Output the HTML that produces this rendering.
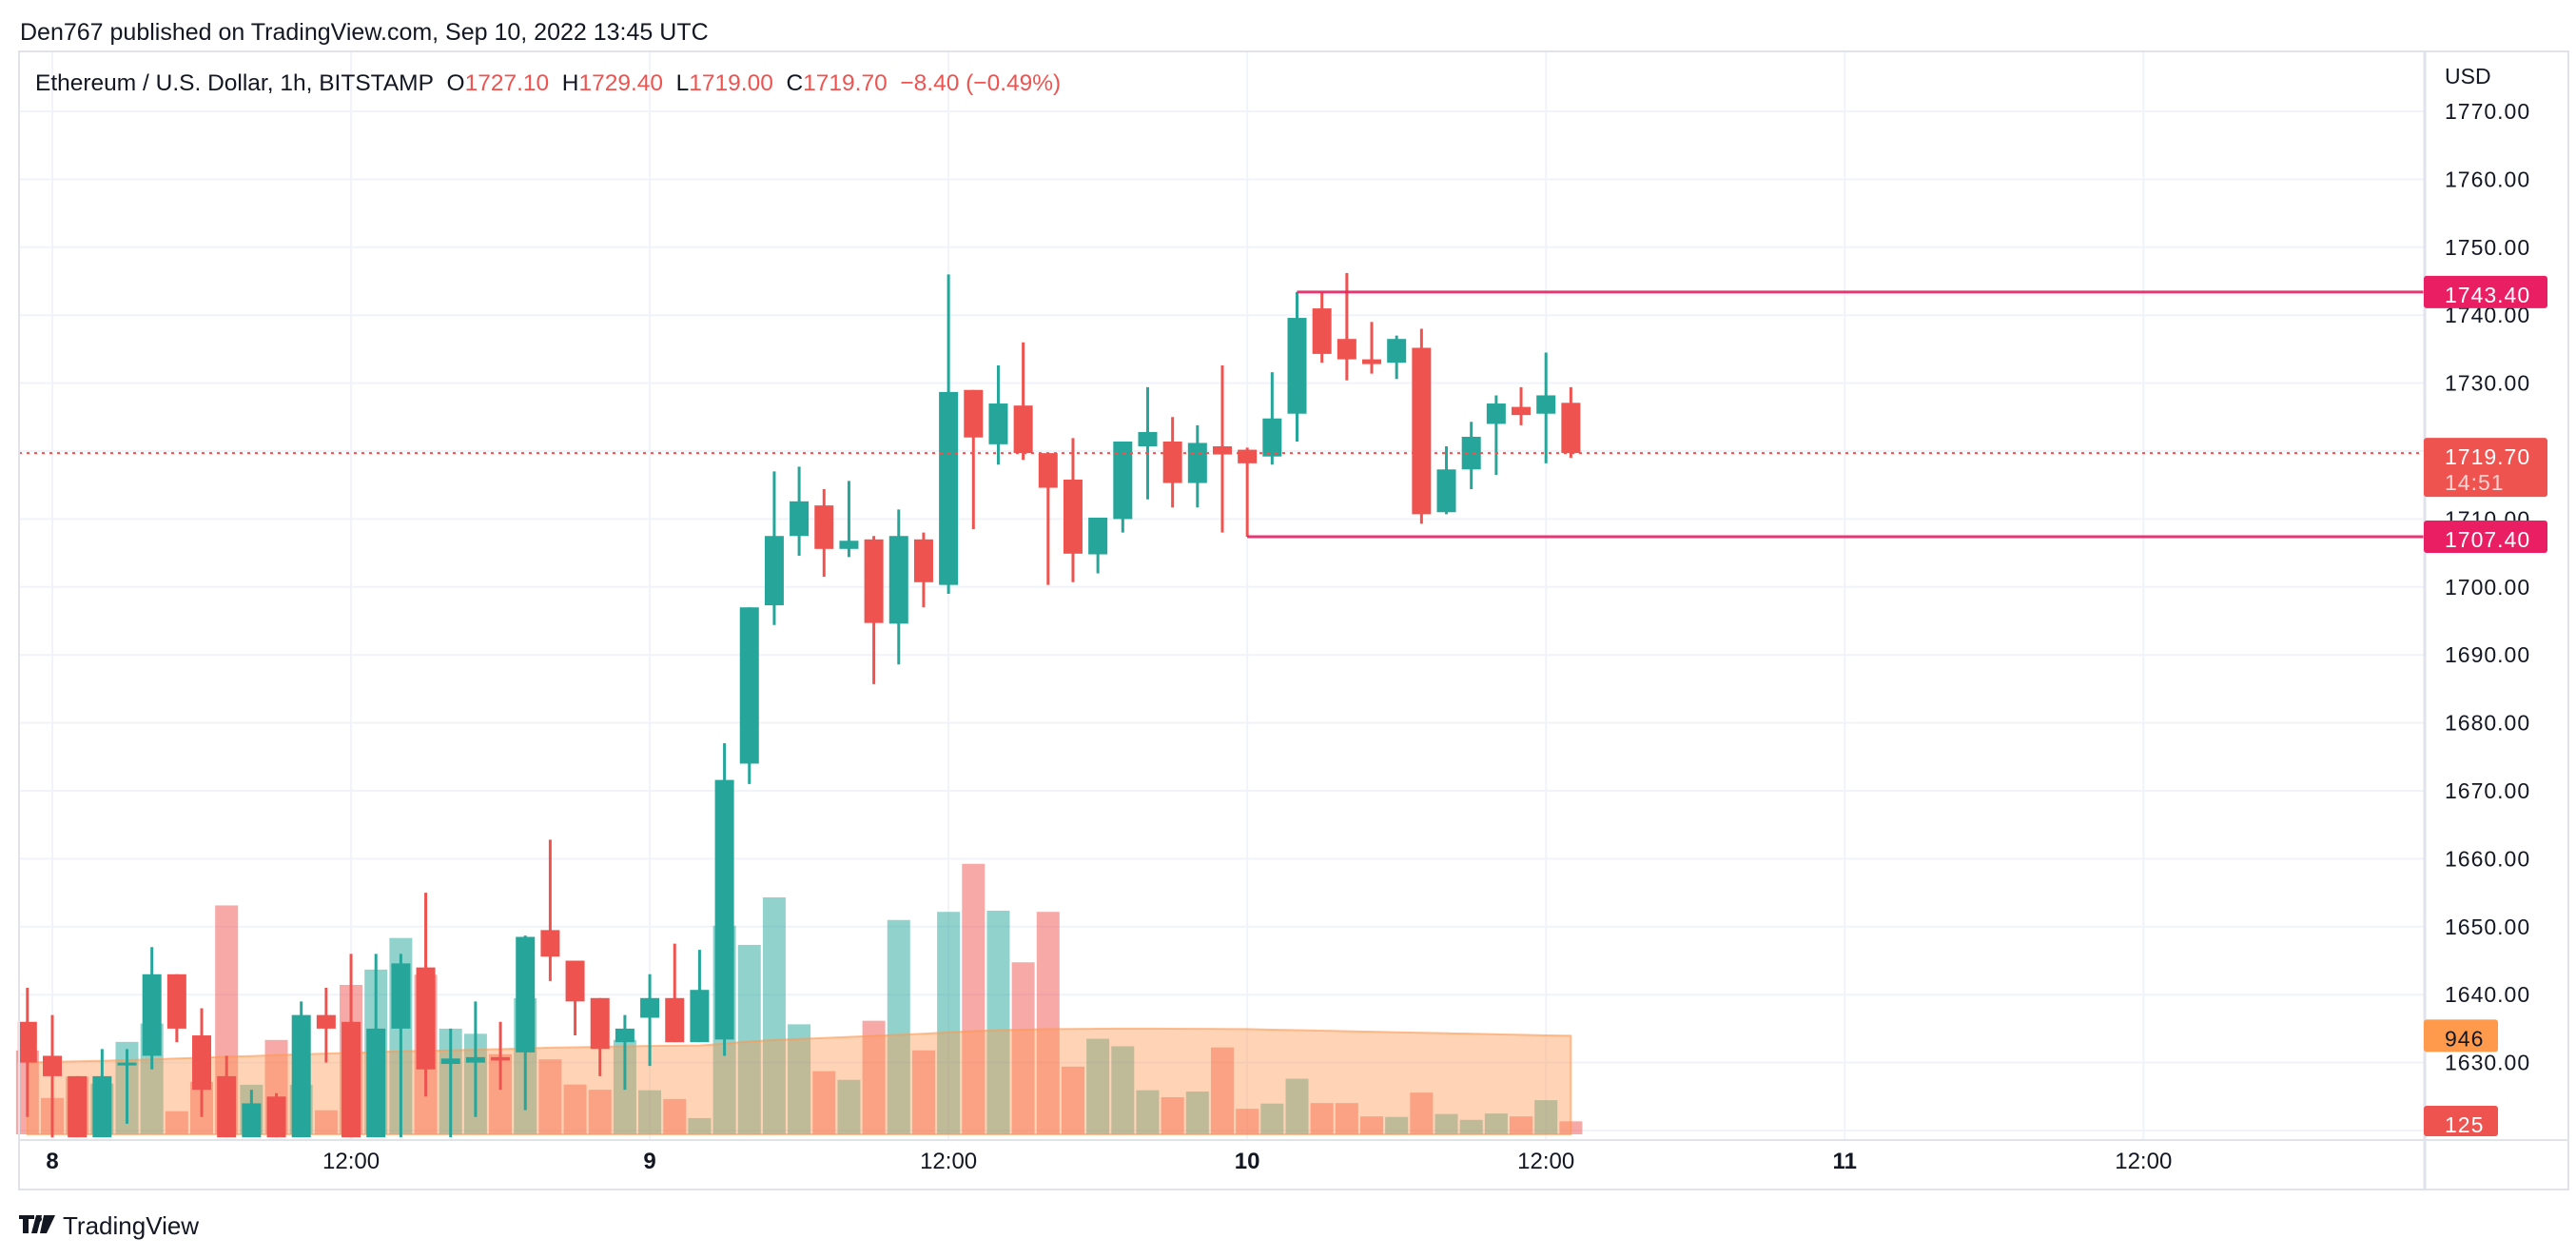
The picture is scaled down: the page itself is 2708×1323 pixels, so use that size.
<!DOCTYPE html>
<html><head><meta charset="utf-8">
<style>
html,body{margin:0;padding:0;background:#fff;}
body{width:2708px;height:1318px;overflow:hidden;font-family:"Liberation Sans",sans-serif;}
svg text{font-family:"Liberation Sans",sans-serif;}
</style></head>
<body>
<svg id="chart" width="2708" height="1318" viewBox="0 0 2708 1318" xmlns="http://www.w3.org/2000/svg">
<rect x="0" y="0" width="2708" height="1318" fill="#fff"/>
<text x="21" y="42" font-size="25" fill="#131722">Den767 published on TradingView.com, Sep 10, 2022 13:45 UTC</text>
<g id="grid"></g>
<g id="vol"></g>
<g id="candles"></g>
<g id="over"></g>
<rect x="20" y="54" width="2680" height="1196" fill="none" stroke="#e0e3eb" stroke-width="2"/>
<line x1="2549" y1="54" x2="2549" y2="1250" stroke="#e0e3eb" stroke-width="3"/>
<line x1="20" y1="1198" x2="2700" y2="1198" stroke="#e0e3eb" stroke-width="2"/>
<text x="37" y="95" font-size="24.5" fill="#131722">Ethereum / U.S. Dollar, 1h, BITSTAMP&#160; O<tspan fill="#ef5350">1727.10</tspan>&#160; H<tspan fill="#ef5350">1729.40</tspan>&#160; L<tspan fill="#ef5350">1719.00</tspan>&#160; C<tspan fill="#ef5350">1719.70</tspan>&#160; <tspan fill="#ef5350">−8.40 (−0.49%)</tspan></text>
<text x="2570" y="88" font-size="23" fill="#131722">USD</text>
<g id="axis"></g>
<g id="badges"></g>
<g>
<path d="M20 1277h16v4h-6v15h-6v-15h-4z M38 1277h6l-5 19h-6z" fill="#131722"/>
<circle cx="41" cy="1281" r="3" fill="#131722"/>
<path d="M46 1277h12l-9 19h-7z" fill="#131722"/>
<text x="66" y="1297" font-size="26" fill="#131722">TradingView</text>
</g>
</svg>
<script>
const opens =[1636,1631,1628,1619,1629.6,1631,1643,1634,1628,1619,1625,1619,1637,1636,1619,1635,1644,1629.8,1630,1630.8,1631.5,1649.5,1645,1639.5,1633,1636.6,1639.5,1633,1633.4,1674,1697.3,1707.5,1712,1705.6,1707,1694.6,1707,1700.3,1729,1721,1726.7,1719.7,1715.8,1704.8,1710,1720.7,1721.4,1715.3,1720.7,1720.2,1719.2,1725.5,1741,1736.5,1733.5,1733,1735.2,1711,1717.3,1724,1726.5,1725.5,1727.1];
const highs =[1641,1637,1628,1632,1632,1647,1643,1638,1631,1626,1625.5,1639,1641,1646,1646,1646,1655,1635,1639,1636,1648.7,1662.8,1645,1639.5,1637,1643,1647.5,1646.6,1677,1697,1717,1717.7,1714.4,1715.6,1707.5,1711.4,1708,1746,1729,1732.6,1736,1719.7,1721.9,1710.2,1721.4,1729.4,1725,1723.8,1732.6,1720.5,1731.6,1743.4,1743.3,1746.2,1739,1737,1738,1720.7,1724.3,1728.2,1729.4,1734.5,1729.4];
const lows  =[1622,1619,1619,1619,1621,1629,1633,1622,1619,1619,1619,1619,1630,1619,1619,1619,1625,1619,1622,1626,1623,1642,1634,1628,1626,1629.5,1633,1633,1631,1671,1694.4,1704.6,1701.5,1704.4,1685.7,1688.6,1697,1699,1708.5,1718,1718.7,1700.3,1700.7,1702,1708,1712.9,1711.7,1711.7,1708,1707.4,1718,1721.4,1733,1730.4,1731.4,1730.6,1709.3,1710.7,1714.4,1716.5,1723.8,1718.2,1719];
const closes=[1630,1628,1619,1628,1630,1643,1635,1626,1619,1624,1619,1637,1635,1619,1635,1644.6,1629,1630.6,1630.8,1630.3,1648.5,1645.6,1639,1632,1635,1639.5,1633,1640.7,1671.6,1697,1707.5,1712.6,1705.6,1706.8,1694.7,1707.5,1700.7,1728.7,1722,1727,1719.7,1714.6,1704.9,1710.2,1721.4,1722.8,1715.3,1721.2,1719.5,1718.2,1724.8,1739.6,1734.3,1733.5,1732.8,1736.5,1710.7,1717.3,1722.1,1727,1725.3,1728.2,1719.7];
const volumes=[805,349,554,486,887,1063,222,505,2197,476,906,476,231,1434,1581,1884,1532,1014,965,769,1307,720,478,428,907,423,339,156,2002,1818,2274,1056,606,523,1090,2057,806,2135,2596,2146,1651,2135,650,917,845,423,356,411,834,245,295,534,300,300,172,167,400,195,139,200,172,328,125];
const volumeMA=[690,695,700,705,712,720,728,735,745,752,760,768,775,782,790,796,800,806,812,818,825,832,836,840,845,848,850,853,870,890,905,915,925,935,945,955,965,978,990,1000,1005,1010,1012,1014,1015,1015,1014,1013,1012,1010,1005,1000,995,990,985,980,975,970,965,960,955,950,946];
const priceTicks=[1770,1760,1750,1740,1730,1720,1710,1700,1690,1680,1670,1660,1650,1640,1630,1620];
const timeLabels=["8","12:00","9","12:00","10","12:00","11","12:00"];
const timeHours=[0,12,24,36,48,60,72,84];
const boldLabels=[true,false,true,false,true,false,true,false];
const levels=[1743.4,1707.4];
const levelStart=[51,49];
const lastPrice=1719.7;

const NS="http://www.w3.org/2000/svg";
const X0=20, X1=2549, Y0=54, VB=1192;
const py=p=>117+(1770-p)*7.14;
const hx=h=>55+h*26.17;
const ix=i=>hx(i-1);
const vy=v=>VB-v*0.1095;
const UP="#26a69a", DN="#ef5350";
function mk(tag,attrs,parent){const e=document.createElementNS(NS,tag);for(const k in attrs)e.setAttribute(k,attrs[k]);parent.appendChild(e);return e;}

const grid=document.getElementById('grid');
priceTicks.forEach(p=>{const l=mk('line',{x1:X0,x2:X1,y1:py(p),y2:py(p),stroke:'#f0f3fa','stroke-width':2},grid);

});
timeHours.forEach(h=>{const l=mk('line',{x1:hx(h),x2:hx(h),y1:Y0,y2:1198,stroke:'#f0f3fa','stroke-width':2},grid);

});

const vol=document.getElementById('vol');
volumes.forEach((v,i)=>{const up=closes[i]>=opens[i];
const r=mk('rect',{x:ix(i)-12,y:vy(v),width:24,height:VB-vy(v),fill:up?'rgba(38,166,154,0.5)':'rgba(239,83,80,0.5)'},vol);

});
let d='M'+ix(0)+' '+VB;
volumeMA.forEach((m,i)=>{d+=' L'+ix(i).toFixed(1)+' '+vy(m).toFixed(1);});
d+=' L'+ix(volumeMA.length-1)+' '+VB+' Z';
const ma=mk('path',{d:d,fill:'rgba(255,152,80,0.42)',stroke:'rgba(255,152,80,0.6)','stroke-width':2},vol);



const cg=document.getElementById('candles');
opens.forEach((o,i)=>{const c=closes[i],up=c>=o,col=up?UP:DN,x=ix(i);
const w=mk('line',{x1:x,x2:x,y1:py(highs[i]),y2:py(lows[i]),stroke:col,'stroke-width':3},cg);


const top=py(Math.max(o,c)),bot=py(Math.min(o,c));
const b=mk('rect',{x:x-10,y:top,width:20,height:Math.max(3,bot-top),fill:col},cg);

});

const over=document.getElementById('over');
const dl=mk('line',{x1:X0,x2:X1,y1:py(lastPrice),y2:py(lastPrice),stroke:DN,'stroke-width':2,'stroke-dasharray':'3 5'},over);


levels.forEach((p,k)=>{const x=ix(levelStart[k]);
const l=mk('line',{x1:x,x2:X1,y1:py(p),y2:py(p),stroke:'#e91e63','stroke-width':3,'stroke-opacity':0.9},over);

});

const ax=document.getElementById('axis');
priceTicks.slice(0,15).forEach(p=>{const t=mk('text',{x:2570,y:py(p)+8,'font-size':23,fill:'#131722','letter-spacing':'1'},ax);t.textContent=p.toFixed(2);

});
timeLabels.forEach((s,k)=>{const t=mk('text',{x:hx(timeHours[k]),y:1228,'font-size':24,fill:'#131722','text-anchor':'middle','font-weight':boldLabels[k]?'bold':'normal'},ax);t.textContent=s;

});

const bg=document.getElementById('badges');
function badge(y,h,w,col,lines,tc,name){const g=mk('g',{},bg);


mk('rect',{x:2548,y:y,width:w,height:h,rx:3,fill:col},g);
lines.forEach((s,k)=>{const t=mk('text',{x:2570,y:y+28+k*27,'font-size':23,fill:k?'rgba(255,255,255,0.75)':tc,'letter-spacing':'1'},g);t.textContent=s;});}
badge(py(1743.4)-17,34,130,'#e91e63',['1743.40'],'#fff','level-badge-high');
badge(py(lastPrice)-16,62,130,DN,['1719.70','14:51'],'#fff','last-price-badge');
badge(py(1707.4)-17,34,130,'#e91e63',['1707.40'],'#fff','level-badge-low');
badge(vy(946)-17,34,78,'#ff9a4d',['946'],'#131722','volume-ma-badge');
badge(VB-30,32,78,DN,['125'],'#fff','volume-badge');
</script>
</body></html>
